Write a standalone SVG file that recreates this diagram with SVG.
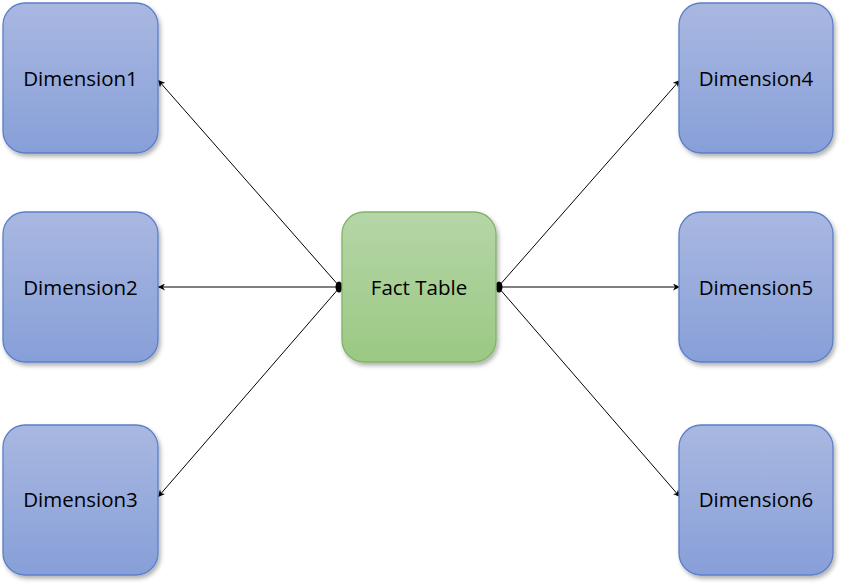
<svg xmlns="http://www.w3.org/2000/svg" width="843" height="585" viewBox="0 0 843 585">
<style>
.dim{fill:url(#gBlue);stroke:#5b7fc9;stroke-width:1.3}
.fact{fill:url(#gGreen);stroke:#82b366;stroke-width:1.3}
.lbl{font-family:"Open Sans","Liberation Sans",sans-serif;font-size:20.5px;fill:#000;text-anchor:middle;dominant-baseline:central}
.con{stroke:#000;stroke-width:1;fill:none;marker-end:url(#arr)}
</style>
<defs>
<linearGradient id="gBlue" x1="0" y1="0" x2="0" y2="1">
<stop offset="0" stop-color="#a9b8e1"/>
<stop offset="1" stop-color="#879fd8"/>
</linearGradient>
<linearGradient id="gGreen" x1="0" y1="0" x2="0" y2="1">
<stop offset="0" stop-color="#b5d6a7"/>
<stop offset="1" stop-color="#9bc883"/>
</linearGradient>
<filter id="sh" x="-10%" y="-10%" width="130%" height="130%">
<feDropShadow dx="2" dy="3" stdDeviation="2" flood-color="#000" flood-opacity="0.3"/>
</filter>
<marker id="arr" viewBox="0 0 10 10" refX="10" refY="5" markerWidth="7" markerHeight="7" markerUnits="userSpaceOnUse" orient="auto">
<path d="M0,0 L10,5 L0,10 L3,5 Z" fill="#000"/>
</marker>
</defs>
<g id="connectors">
<line class="con" x1="340" y1="287" x2="158" y2="80"/>
<line class="con" x1="340" y1="287" x2="158" y2="287"/>
<line class="con" x1="340" y1="287" x2="158" y2="497"/>
<line class="con" x1="498" y1="287" x2="680" y2="80"/>
<line class="con" x1="498" y1="287" x2="680" y2="287"/>
<line class="con" x1="498" y1="287" x2="680" y2="497"/>
<ellipse cx="339" cy="287" rx="3.5" ry="5.5" fill="#000"/>
<ellipse cx="499" cy="287" rx="3.5" ry="5.5" fill="#000"/>
</g>
<g id="dim1"><rect class="dim" filter="url(#sh)" x="3" y="3" width="155" height="150" rx="22"/><text class="lbl" x="80.5" y="78">Dimension1</text></g>
<g id="dim2"><rect class="dim" filter="url(#sh)" x="3" y="212" width="155" height="150" rx="22"/><text class="lbl" x="80.5" y="287">Dimension2</text></g>
<g id="dim3"><rect class="dim" filter="url(#sh)" x="3" y="425" width="155" height="150" rx="22"/><text class="lbl" x="80.5" y="499">Dimension3</text></g>
<g id="fact"><rect class="fact" filter="url(#sh)" x="342" y="212" width="154" height="150" rx="22"/><text class="lbl" x="419" y="287">Fact Table</text></g>
<g id="dim4"><rect class="dim" filter="url(#sh)" x="679" y="3" width="154" height="150" rx="22"/><text class="lbl" x="756" y="78">Dimension4</text></g>
<g id="dim5"><rect class="dim" filter="url(#sh)" x="679" y="212" width="154" height="150" rx="22"/><text class="lbl" x="756" y="287">Dimension5</text></g>
<g id="dim6"><rect class="dim" filter="url(#sh)" x="679" y="425" width="154" height="150" rx="22"/><text class="lbl" x="756" y="499">Dimension6</text></g>
</svg>
